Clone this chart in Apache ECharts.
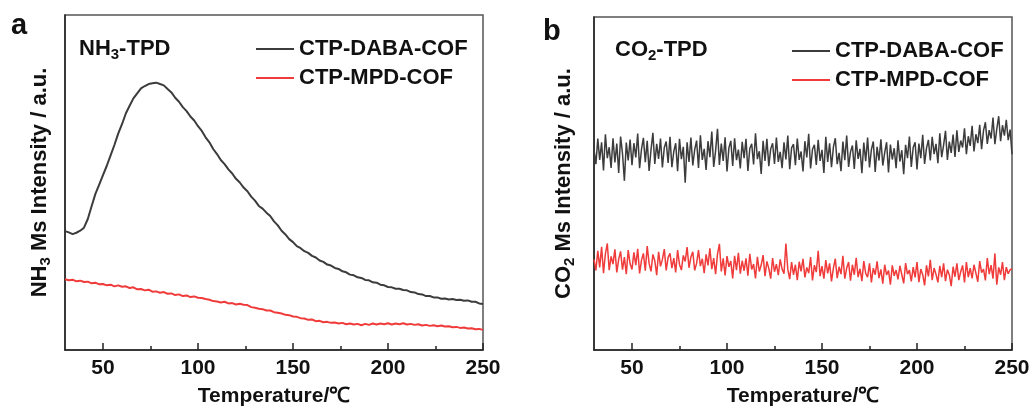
<!DOCTYPE html>
<html>
<head>
<meta charset="utf-8">
<script src="https://cdn.jsdelivr.net/npm/echarts@6/dist/echarts.min.js"></script>
<style>
html,body{margin:0;padding:0;background:#fff;}
#chart{width:1034px;height:412px;}
</style>
</head>
<body>
<div id="chart"></div>
<script>
// ---- Data ----
const SERIES_NAMES = ['CTP-DABA-COF', 'CTP-MPD-COF'];
const X_TICKS = [50, 100, 150, 200, 250];
const X_MINOR_TICKS = [75, 125, 175, 225];

// Panel a: NH3-TPD, temperatures 30..250 step 2
const NH3_T_START = 30, NH3_T_STEP = 2;
const nh3Daba = [
  35.5, 35.1, 34.6, 35.0, 35.6, 36.5, 39.1, 42.9, 46.6, 49.4,
  52.2, 55.0, 58.1, 61.2, 64.6, 67.4, 70.6, 72.9, 75.1, 76.6,
  78.1, 78.8, 79.4, 79.6, 79.8, 79.4, 79.0, 77.9, 76.9, 75.3,
  74.1, 72.5, 71.3, 69.7, 68.5, 66.8, 65.4, 63.5, 62.0, 60.0,
  58.5, 56.7, 55.5, 53.9, 52.7, 51.1, 50.0, 48.5, 47.4, 45.8,
  44.6, 43.0, 42.2, 41.0, 40.0, 38.4, 37.2, 35.6, 34.5, 33.1,
  32.2, 31.0, 30.4, 29.5, 29.0, 28.1, 27.6, 26.7, 26.3, 25.5,
  25.2, 24.5, 24.2, 23.5, 23.2, 22.5, 22.3, 21.7, 21.5, 20.9,
  20.8, 20.2, 20.1, 19.5, 19.3, 18.8, 18.7, 18.3, 18.3, 17.9,
  17.8, 17.3, 17.2, 16.7, 16.6, 16.1, 16.1, 15.7, 15.7, 15.3,
  15.4, 15.1, 15.2, 14.9, 15.0, 14.7, 14.8, 14.4, 14.4, 13.9,
  13.7
];
const nh3Mpd = [
  21.1, 20.8, 21.0, 20.5, 20.7, 20.3, 20.4, 19.9, 20.1, 19.6,
  19.7, 19.3, 19.5, 19.0, 19.3, 18.9, 19.0, 18.5, 18.7, 18.1,
  18.2, 17.8, 18.0, 17.4, 17.5, 17.1, 17.3, 16.8, 16.9, 16.4,
  16.6, 16.1, 16.3, 15.8, 16.0, 15.6, 15.5, 15.2, 15.0, 14.6,
  14.5, 14.2, 14.4, 13.9, 14.0, 13.6, 13.8, 13.5, 13.4, 12.8,
  12.6, 12.3, 12.2, 11.8, 11.8, 11.3, 11.1, 10.9, 10.5, 10.4,
  10.0, 9.9, 9.5, 9.4, 9.0, 9.1, 8.6, 8.7, 8.3, 8.4,
  8.1, 8.2, 7.9, 8.1, 7.7, 7.9, 7.6, 7.8, 7.4, 7.8,
  7.5, 7.9, 7.6, 7.9, 7.7, 8.0, 7.6, 7.9, 7.7, 8.0,
  7.6, 7.8, 7.5, 7.7, 7.3, 7.5, 7.2, 7.4, 7.1, 7.3,
  7.0, 7.1, 6.8, 6.9, 6.6, 6.7, 6.4, 6.5, 6.2, 6.3,
  6.0
];

// Panel b: CO2-TPD, temperatures 30..250 step 1
const CO2_T_START = 30, CO2_T_STEP = 1;
const co2Daba = [
  60.2, 55.8, 63.5, 57.1, 62.4, 53.9, 64.8, 57.6, 60.9, 54.7, 63.6, 56.3, 62.0, 53.2, 64.1, 59.0, 50.8, 62.3, 56.9, 63.2,
  55.5, 62.1, 57.8, 65.0, 54.6, 60.3, 63.7, 56.4, 62.8, 53.8, 60.1, 65.2, 55.9, 61.9, 57.4, 63.5, 54.8, 60.8, 62.6, 56.2,
  64.0, 54.9, 59.6, 62.1, 53.7, 63.4, 57.3, 61.0, 50.2, 62.4, 56.5, 63.8, 55.4, 60.2, 62.9, 54.7, 64.5, 57.1, 60.4, 54.1,
  62.7, 57.9, 65.6, 55.0, 59.8, 66.4, 55.6, 62.0, 56.8, 63.9, 53.6, 60.7, 62.8, 55.3, 63.6, 57.0, 60.2, 54.5, 62.5, 57.6,
  63.4, 53.8, 60.5, 61.9, 55.7, 65.1, 57.3, 59.7, 52.9, 62.8, 56.8, 63.4, 55.2, 60.4, 62.1, 55.9, 63.8, 56.5, 59.5, 54.6,
  62.4, 57.2, 64.4, 54.3, 60.7, 61.8, 55.5, 63.5, 57.1, 59.6, 53.6, 62.7, 57.8, 64.9, 54.5, 60.3, 61.6, 55.6, 63.1, 56.8,
  60.1, 53.2, 64.0, 56.5, 62.1, 54.9, 60.9, 63.6, 55.8, 59.2, 53.7, 62.6, 57.0, 64.4, 55.0, 59.5, 61.4, 54.4, 63.0, 57.4,
  60.4, 53.1, 62.3, 56.7, 63.8, 54.8, 60.2, 62.6, 53.5, 61.0, 56.9, 63.3, 55.4, 59.3, 62.4, 53.3, 61.7, 57.2, 60.6, 54.6,
  63.0, 56.6, 60.0, 52.8, 61.6, 57.6, 64.1, 55.0, 60.8, 62.4, 54.2, 62.0, 57.6, 64.6, 55.9, 60.6, 63.1, 56.9, 64.0, 58.8,
  61.9, 56.1, 65.1, 57.9, 61.5, 65.8, 57.1, 62.6, 59.2, 64.7, 58.0, 66.0, 59.5, 62.9, 60.8, 66.6, 58.8, 64.2, 61.3, 67.3,
  59.6, 64.8, 62.1, 67.6, 60.3, 65.9, 68.4, 61.9, 66.0, 63.5, 69.8, 61.8, 66.4, 70.2, 62.7, 67.5, 64.4, 69.1, 63.0, 66.2,
  58.8
];
const co2Mpd = [
  27.2, 23.9, 29.8, 24.8, 31.0, 23.1, 28.9, 32.0, 24.0, 28.1, 25.8, 30.2, 23.3, 27.3, 29.6, 24.1, 27.9, 22.8, 30.0, 25.9,
  24.2, 29.3, 25.5, 30.4, 23.0, 27.0, 29.0, 23.8, 31.2, 26.0, 23.6, 28.7, 26.8, 22.5, 29.5, 25.1, 27.2, 30.3, 23.9, 27.8,
  29.0, 24.6, 27.6, 23.3, 30.0, 25.7, 24.0, 28.4, 26.6, 30.9, 24.7, 27.9, 29.5, 23.9, 26.0, 30.0, 25.2, 27.4, 23.1, 28.7,
  25.4, 30.5, 24.3, 27.6, 22.8, 28.8, 31.9, 23.6, 27.5, 22.4, 28.2, 25.0, 26.7, 21.5, 28.3, 24.0, 29.2, 22.9, 26.8, 23.8,
  27.5, 22.3, 28.9, 24.2, 25.8, 21.5, 28.0, 23.6, 25.5, 28.5, 22.2, 26.6, 24.5, 21.4, 27.6, 23.5, 25.8, 22.5, 27.2, 24.3,
  22.9, 32.0, 24.2, 21.3, 26.4, 22.6, 25.6, 21.0, 26.5, 23.6, 27.4, 21.8, 24.8, 23.1, 27.9, 20.9, 25.5, 23.4, 29.8, 22.2,
  25.2, 21.4, 27.0, 23.0, 26.0, 20.6, 24.6, 27.4, 21.6, 25.0, 22.8, 28.3, 21.4, 24.6, 26.4, 20.8, 25.6, 22.6, 27.7, 21.9,
  24.4, 20.7, 26.7, 23.0, 21.9, 26.0, 20.3, 24.6, 22.6, 26.6, 21.6, 24.2, 19.9, 25.6, 22.5, 23.9, 19.6, 25.4, 22.3, 24.0,
  21.2, 25.3, 22.6, 20.0, 26.1, 22.8, 24.0, 20.6, 24.9, 21.8, 26.4, 20.4, 24.3, 22.6, 19.4, 25.4, 22.1, 27.1, 21.0, 24.6,
  22.7, 20.3, 25.3, 21.9, 26.0, 20.7, 24.1, 22.6, 19.2, 25.0, 22.0, 26.0, 21.0, 23.5, 25.4, 20.3, 26.4, 21.9, 24.6, 21.5,
  25.6, 23.1, 20.5, 26.7, 23.2, 24.3, 20.9, 27.6, 22.8, 25.5, 21.4, 29.0, 19.6, 24.8, 22.6, 26.4, 21.0, 24.9, 22.9, 24.1,
  24.4
];

// ---- Build chart ----
const FONT = '"Liberation Sans", Arial, Helvetica, sans-serif';
const BLACK = '#3c3c3c';
const RED = '#f03b3b';

function pairs(start, step, vals) {
  return vals.map((v, i) => [start + i * step, v]);
}

function majorX(gi) {
  return {
    gridIndex: gi, type: 'value', min: 30, max: 250, position: 'bottom',
    axisLine: { show: true, lineStyle: { color: '#222', width: 1.5 } },
    axisTick: { show: true, inside: true, length: 7, customValues: X_TICKS, lineStyle: { color: '#222', width: 1.5 } },
    axisLabel: { show: true, customValues: X_TICKS, fontSize: 21, fontWeight: 'bold', color: '#111', fontFamily: FONT, margin: 8 },
    splitLine: { show: false },
    name: 'Temperature/℃', nameLocation: 'middle', nameGap: 36,
    nameTextStyle: { fontSize: 21, fontWeight: 'bold', color: '#111', fontFamily: FONT }
  };
}
function minorX(gi) {
  return {
    gridIndex: gi, type: 'value', min: 30, max: 250, position: 'bottom',
    axisLine: { show: false },
    axisTick: { show: true, inside: true, length: 4, customValues: X_MINOR_TICKS, lineStyle: { color: '#222', width: 1.5 } },
    axisLabel: { show: false }, splitLine: { show: false }
  };
}
function yAx(gi, name, gap) {
  return {
    gridIndex: gi, type: 'value', min: 0, max: 100,
    axisLine: { show: true, lineStyle: { color: '#222', width: 1.5 } },
    axisTick: { show: false }, axisLabel: { show: false }, splitLine: { show: false },
    name: name, nameLocation: 'middle', nameGap: gap, nameRotate: 90,
    nameTextStyle: {
      fontFamily: FONT, color: '#111',
      rich: {
        n: { fontSize: 22, fontWeight: 'bold', fontFamily: FONT, color: '#111', lineHeight: 26 },
        s: { fontSize: 15, fontWeight: 'bold', fontFamily: FONT, color: '#111', lineHeight: 15, verticalAlign: 'bottom' }
      }
    }
  };
}
const richTitle = {
  n: { fontSize: 22, fontWeight: 'bold', fontFamily: FONT, fill: '#111', lineHeight: 26 },
  s: { fontSize: 15, fontWeight: 'bold', fontFamily: FONT, fill: '#111', lineHeight: 15, verticalAlign: 'bottom' }
};
function legend(left, top) {
  return {
    left: left, top: top, orient: 'vertical', icon: 'rect', itemWidth: 38, itemHeight: 2,
    itemGap: 7, padding: 0,
    textStyle: { fontSize: 22, fontWeight: 'bold', color: '#111', fontFamily: FONT },
    data: SERIES_NAMES
  };
}
function line(name, color, xi, yi, data, w) {
  return {
    name: name, type: 'line', xAxisIndex: xi, yAxisIndex: yi, data: data,
    showSymbol: false, symbol: 'none', color: color,
    lineStyle: { color: color, width: w }, animation: false, z: 3
  };
}

const chart = echarts.init(document.getElementById('chart'), null, { renderer: 'canvas' });
chart.setOption({
  animation: false,
  backgroundColor: '#fff',
  grid: [
    { left: 65, top: 15, width: 418, height: 338, show: true, borderColor: '#555', borderWidth: 1.5 },
    { left: 594, top: 17, width: 418, height: 338, show: true, borderColor: '#555', borderWidth: 1.5 }
  ],
  xAxis: [majorX(0), minorX(0), majorX(1), minorX(1)],
  yAxis: [
    yAx(0, '{n|NH}{s|3}{n| Ms Intensity / a.u.}', 12),
    yAx(1, '{n|CO}{s|2}{n| Ms Intensity / a.u.}', 17)
  ],
  legend: [legend(256, 38), legend(792, 40)],
  graphic: [
    { type: 'text', left: 11, top: 11, style: { text: 'a', fontSize: 29, fontWeight: 'bold', fontFamily: FONT, fill: '#111' } },
    { type: 'text', left: 543, top: 17, style: { text: 'b', fontSize: 29, fontWeight: 'bold', fontFamily: FONT, fill: '#111' } },
    { type: 'text', left: 79, top: 38, style: { text: '{n|NH}{s|3}{n|-TPD}', rich: richTitle } },
    { type: 'text', left: 615, top: 39, style: { text: '{n|CO}{s|2}{n|-TPD}', rich: richTitle } }
  ],
  series: [
    line(SERIES_NAMES[0], BLACK, 0, 0, pairs(NH3_T_START, NH3_T_STEP, nh3Daba), 2),
    line(SERIES_NAMES[1], RED, 0, 0, pairs(NH3_T_START, NH3_T_STEP, nh3Mpd), 2),
    line(SERIES_NAMES[0], BLACK, 2, 1, pairs(CO2_T_START, CO2_T_STEP, co2Daba), 1.5),
    line(SERIES_NAMES[1], RED, 2, 1, pairs(CO2_T_START, CO2_T_STEP, co2Mpd), 1.5)
  ]
});
</script>
</body>
</html>
